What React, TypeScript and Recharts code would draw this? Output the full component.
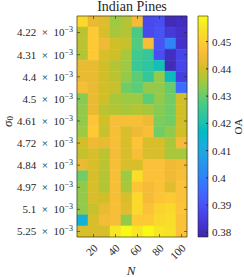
import React from 'react';
import { ComposedChart, XAxis, YAxis, ReferenceArea, Scatter, Label } from 'recharts';

const nValues = [10, 20, 30, 40, 50, 60, 70, 80, 90, 100];
const nTicks = [20, 40, 60, 80, 100];
const sigmaTickLabels = ['4.22', '4.31', '4.4', '4.5', '4.61', '4.72', '4.84', '4.97', '5.1', '5.25'];
const sigmaTickRows = [1, 3, 5, 7, 9, 11, 13, 15, 17, 19];
const oaTicks = [0.38, 0.39, 0.4, 0.41, 0.42, 0.43, 0.44, 0.45];
const oaMin = 0.3783;
const oaMax = 0.4594;

// OA per sigma row (top -> bottom), columns follow nValues
const oaGrid = [
  [0.452, 0.443, 0.442, 0.435, 0.437, 0.445, 0.388, 0.389, 0.380, 0.381],
  [0.438, 0.449, 0.441, 0.436, 0.437, 0.427, 0.388, 0.390, 0.384, 0.382],
  [0.438, 0.449, 0.444, 0.440, 0.439, 0.428, 0.446, 0.390, 0.401, 0.382],
  [0.437, 0.449, 0.441, 0.440, 0.436, 0.426, 0.424, 0.389, 0.381, 0.387],
  [0.443, 0.443, 0.440, 0.437, 0.435, 0.425, 0.423, 0.419, 0.380, 0.387],
  [0.443, 0.443, 0.440, 0.438, 0.434, 0.429, 0.424, 0.434, 0.418, 0.385],
  [0.446, 0.443, 0.440, 0.439, 0.431, 0.429, 0.434, 0.434, 0.430, 0.396],
  [0.433, 0.443, 0.440, 0.436, 0.435, 0.435, 0.429, 0.434, 0.431, 0.440],
  [0.434, 0.443, 0.438, 0.437, 0.436, 0.437, 0.436, 0.433, 0.431, 0.440],
  [0.434, 0.448, 0.440, 0.446, 0.446, 0.446, 0.444, 0.432, 0.431, 0.440],
  [0.435, 0.449, 0.439, 0.446, 0.441, 0.444, 0.446, 0.431, 0.434, 0.440],
  [0.440, 0.444, 0.443, 0.446, 0.441, 0.448, 0.441, 0.441, 0.436, 0.445],
  [0.439, 0.441, 0.438, 0.445, 0.441, 0.446, 0.441, 0.441, 0.436, 0.436],
  [0.443, 0.441, 0.438, 0.446, 0.441, 0.441, 0.447, 0.447, 0.444, 0.445],
  [0.431, 0.441, 0.437, 0.446, 0.435, 0.453, 0.447, 0.447, 0.444, 0.446],
  [0.434, 0.441, 0.437, 0.446, 0.436, 0.448, 0.445, 0.447, 0.442, 0.447],
  [0.434, 0.441, 0.440, 0.446, 0.441, 0.452, 0.445, 0.448, 0.449, 0.447],
  [0.434, 0.439, 0.443, 0.446, 0.442, 0.452, 0.447, 0.451, 0.452, 0.448],
  [0.413, 0.441, 0.445, 0.446, 0.434, 0.449, 0.449, 0.452, 0.453, 0.447],
  [0.441, 0.441, 0.441, 0.455, 0.459, 0.455, 0.459, 0.455, 0.454, 0.447],
];

const parulaStops = [
  '#3e26a8', '#4432cb', '#4741e5', '#4852f4', '#4563fd', '#3875fe', '#2e87f7', '#2796eb',
  '#20a5e3', '#12b1d6', '#02bac3', '#24c1ae', '#37c897', '#57cc7a', '#81cc59', '#abc739',
  '#d1bf27', '#f0ba36', '#fec338', '#fad62d', '#f5e924', '#f9fb15',
];

const FONT = 'Liberation Serif';
const TEXT = '#262626';

function hexToRgb(h: string) {
  return [parseInt(h.slice(1, 3), 16), parseInt(h.slice(3, 5), 16), parseInt(h.slice(5, 7), 16)];
}

function parula(v: number) {
  const t = Math.max(0, Math.min(1, (v - oaMin) / (oaMax - oaMin)));
  const pos = t * (parulaStops.length - 1);
  const i = Math.min(parulaStops.length - 2, Math.floor(pos));
  const f = pos - i;
  const a = hexToRgb(parulaStops[i]);
  const b = hexToRgb(parulaStops[i + 1]);
  const c = a.map((x, k) => Math.round(x + (b[k] - x) * f));
  return `rgb(${c[0]},${c[1]},${c[2]})`;
}

const nStep = nValues[1] - nValues[0];
const cells = oaGrid.flatMap((row, r) => row.map((oa, c) => ({ n: nValues[c], row: r, oa })));

const SigmaTick = (props: any) => {
  const { x, y, payload } = props;
  const idx = sigmaTickRows.indexOf(payload.value);
  if (idx < 0) return null;
  return (
    <text x={x} y={y} textAnchor="end" fontFamily={FONT} fontSize={11} fill={TEXT}>
      <tspan dy="0.35em">{sigmaTickLabels[idx]}{'\u2002×\u2002'}10</tspan>
      <tspan dy="-0.5em" fontSize={8}>−3</tspan>
    </text>
  );
};

const NTick = (props: any) => {
  const { x, y, payload } = props;
  return (
    <text
      transform={`translate(${x + 2},${y}) rotate(-45)`}
      textAnchor="end"
      dominantBaseline="central"
      fontFamily={FONT}
      fontSize={11}
      fill={TEXT}
    >
      {payload.value}
    </text>
  );
};

const noShape = () => <g />;

export default function App() {
  return (
    <div style={{ position: 'absolute', left: 0, top: 0, width: 244, height: 277, background: '#fff' }}>
      <div style={{ position: 'absolute', left: 0, top: 0 }}>
        <ComposedChart width={244} height={277} margin={{ top: 0, right: 56, bottom: 0, left: 0 }}>
          {cells.map((d) => (
            <ReferenceArea
              key={`${d.row}-${d.n}`}
              xAxisId="b"
              yAxisId="l"
              x1={d.n - nStep / 2}
              x2={d.n + nStep / 2}
              y1={d.row - 0.5}
              y2={d.row + 0.5}
              fill={parula(d.oa)}
              fillOpacity={1}
              stroke={parula(d.oa)}
              strokeWidth={0.5}
              ifOverflow="visible"
            />
          ))}
          <Scatter xAxisId="b" yAxisId="l" data={cells} dataKey="oa" shape={noShape} isAnimationActive={false} />
          <XAxis
            xAxisId="b"
            dataKey="n"
            type="number"
            orientation="bottom"
            domain={[5, 105]}
            ticks={nTicks}
            height={40}
            tickSize={-3}
            tickMargin={12}
            tick={NTick}
            stroke="#262626"
            strokeWidth={0.6}
            allowDataOverflow
            interval={0}
          >
            <Label
              content={(p: any) => {
                const vb = p.viewBox || {};
                return (
                  <text
                    x={vb.x + vb.width / 2 - 1}
                    y={vb.y + 33}
                    textAnchor="middle"
                    dominantBaseline="central"
                    fontFamily={FONT}
                    fontStyle="italic"
                    fontSize={13}
                    fill={TEXT}
                  >
                    N
                  </text>
                );
              }}
            />
          </XAxis>
          <XAxis
            xAxisId="t"
            dataKey="n"
            type="number"
            orientation="top"
            domain={[5, 105]}
            ticks={nTicks}
            height={16}
            tickSize={-3}
            tickFormatter={() => ''}
            stroke="#262626"
            strokeWidth={0.6}
            allowDataOverflow
            interval={0}
          >
            <Label
              content={(p: any) => {
                const vb = p.viewBox || {};
                return (
                  <text
                    x={vb.x + vb.width / 2}
                    y={vb.y + 10.5}
                    textAnchor="middle"
                    fontFamily={FONT}
                    fontSize={14}
                    fill={TEXT}
                  >
                    Indian Pines
                  </text>
                );
              }}
            />
          </XAxis>
          <YAxis
            yAxisId="l"
            dataKey="row"
            type="number"
            orientation="left"
            domain={[-0.5, 19.5]}
            reversed
            ticks={sigmaTickRows}
            width={77}
            tickSize={-3}
            tickMargin={7}
            tick={SigmaTick}
            stroke="#262626"
            strokeWidth={0.6}
            allowDataOverflow
            interval={0}
          >
            <Label
              content={(p: any) => {
                const vb = p.viewBox || {};
                const cx = vb.x + 7;
                const cy = vb.y + vb.height / 2 - 5;
                return (
                  <text
                    transform={`translate(${cx},${cy}) rotate(-90)`}
                    textAnchor="middle"
                    dominantBaseline="central"
                    fontFamily={FONT}
                    fontSize={13}
                    fill={TEXT}
                  >
                    <tspan fontStyle="italic">σ</tspan>
                    <tspan dy="3" fontSize={9}>0</tspan>
                  </text>
                );
              }}
            />
          </YAxis>
          <YAxis
            yAxisId="r"
            dataKey="row"
            type="number"
            orientation="right"
            domain={[-0.5, 19.5]}
            reversed
            ticks={sigmaTickRows}
            width={1}
            tickSize={-3}
            tickFormatter={() => ''}
            stroke="#262626"
            strokeWidth={0.6}
            allowDataOverflow
            interval={0}
          />
        </ComposedChart>
      </div>
      <div style={{ position: 'absolute', left: 187, top: 0 }}>
        <ComposedChart width={57} height={277} margin={{ top: 16, right: 0, bottom: 40, left: 11 }}>
          <defs>
            <linearGradient id="parulaGrad" x1="0" y1="1" x2="0" y2="0">
              {parulaStops.map((c, i) => (
                <stop key={c} offset={`${(i / (parulaStops.length - 1)) * 100}%`} stopColor={c} />
              ))}
            </linearGradient>
          </defs>
          <XAxis xAxisId="cb" dataKey="x" type="number" domain={[0, 1]} hide />
          <ReferenceArea
            xAxisId="cb"
            yAxisId="cb"
            x1={0}
            x2={1}
            y1={oaMin}
            y2={oaMax}
            fill="url(#parulaGrad)"
            fillOpacity={1}
            stroke="#262626"
            strokeWidth={0.6}
            ifOverflow="visible"
          />
          <Scatter
            xAxisId="cb"
            yAxisId="cb"
            data={oaTicks.map((v) => ({ x: 0.5, v }))}
            dataKey="v"
            shape={noShape}
            isAnimationActive={false}
          />
          <YAxis
            yAxisId="cb"
            dataKey="v"
            type="number"
            orientation="right"
            domain={[oaMin, oaMax]}
            ticks={oaTicks}
            width={36}
            tickSize={-2}
            tickMargin={6}
            axisLine={false}
            stroke="#262626"
            tick={{ fontFamily: FONT, fontSize: 11, fill: TEXT }}
            tickFormatter={(v: number) => String(v)}
            allowDataOverflow
            interval={0}
          >
            <Label
              content={(p: any) => {
                const vb = p.viewBox || {};
                const cx = vb.x + 30;
                const cy = vb.y + vb.height / 2;
                return (
                  <text
                    transform={`translate(${cx},${cy}) rotate(-90)`}
                    textAnchor="middle"
                    dominantBaseline="central"
                    fontFamily={FONT}
                    fontSize={11}
                    fill={TEXT}
                  >
                    OA
                  </text>
                );
              }}
            />
          </YAxis>
        </ComposedChart>
      </div>
    </div>
  );
}
